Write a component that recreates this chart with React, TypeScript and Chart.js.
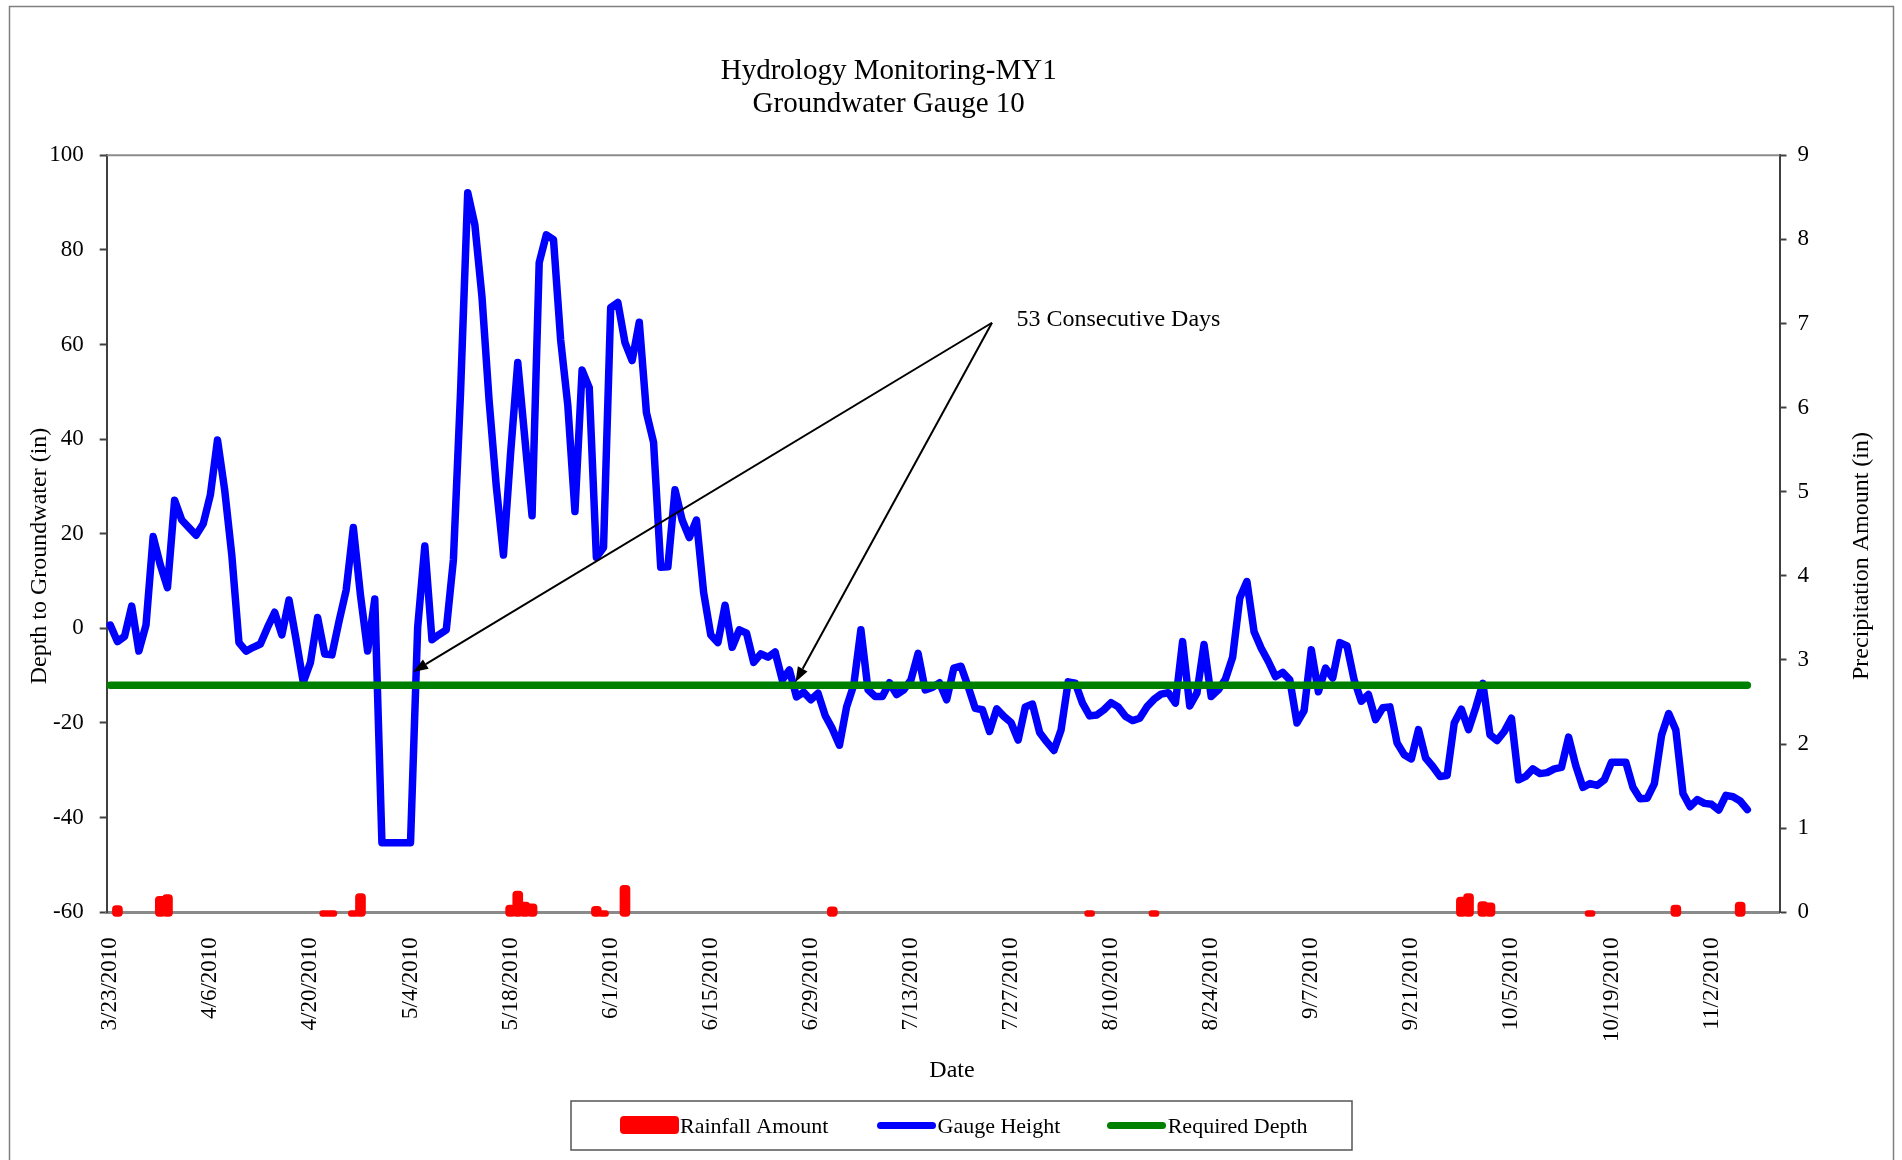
import React, { useEffect, useRef } from "react";
import { Chart, registerables } from "chart.js";

Chart.register(...registerables);

// ---------------- DATA ----------------
const TITLE_LINES = ["Hydrology Monitoring-MY1", "Groundwater Gauge 10"];
const START_YEAR = 2010;
const START_MONTH = 3; // March
const START_DAY = 23;
const DAY_COUNT = 234; // 3/23/2010 .. 11/11/2010

const TICK_LABELS = [
  "3/23/2010", "4/6/2010", "4/20/2010", "5/4/2010", "5/18/2010", "6/1/2010",
  "6/15/2010", "6/29/2010", "7/13/2010", "7/27/2010", "8/10/2010", "8/24/2010",
  "9/7/2010", "9/21/2010", "10/5/2010", "10/19/2010", "11/2/2010",
];

// Gauge height (in), one value per day starting 3/23/2010
const GAUGE_HEIGHT = [
  0.7, -2.8, -1.7, 4.7, -4.8, 0.7, 19.4, 13.4, 8.6, 27.1,
  22.9, 21.3, 19.7, 22.1, 28.2, 39.8, 29.3, 15.5, -3.0, -4.8,
  -4.0, -3.3, 0.2, 3.4, -1.4, 6.0, -2.4, -11.4, -7.2, 2.3,
  -5.4, -5.6, 1.5, 8.1, 21.3, 7.0, -4.8, 6.2, -45.3, -45.3,
  -45.3, -45.3, -45.3, 0.2, 17.4, -2.4, -1.3, -0.3, 14.5, 50,
  92.1, 85.3, 70, 48, 30, 15.5, 37, 56.2, 40, 23.8,
  77.3, 83.2, 82.2, 61, 47.2, 24.7, 54.6, 50.9, 15, 17.1,
  67.8, 68.9, 60.4, 56.6, 64.7, 45.6, 39.3, 12.9, 13, 29.3,
  22.9, 19.2, 22.9, 7.6, -1.4, -3, 4.9, -4, -0.3, -1,
  -7.2, -5.4, -6.1, -5, -10.9, -8.8, -14.5, -13.5, -15.1, -13.7,
  -18.4, -21.2, -24.7, -16.6, -12, -0.3, -13, -14.4, -14.4, -11.5,
  -14, -13, -10.9, -5.3, -13, -12.5, -11.5, -15.1, -8.4, -8,
  -12.3, -16.9, -17.2, -21.8, -17, -18.6, -19.9, -23.6, -16.6, -16,
  -22, -24, -25.8, -21.5, -11.3, -11.6, -15.8, -18.5, -18.3, -17.2,
  -15.7, -16.6, -18.6, -19.5, -19, -16.6, -15, -13.9, -13.6, -15.8,
  -2.8, -16.4, -13.7, -3.4, -14.4, -13, -10.7, -6.1, 6.4, 9.9,
  -0.7, -4.2, -7, -10.2, -9.3, -10.9, -20, -17.4, -4.5, -13.4,
  -8.4, -10.5, -3, -3.7, -10.9, -15.4, -14, -19.3, -16.8, -16.6,
  -24.2, -26.7, -27.6, -21.4, -27.4, -29.2, -31.3, -31.1, -20, -17.1,
  -21.4, -16.8, -11.6, -22.5, -23.7, -21.8, -19, -32, -31.3, -29.7,
  -30.7, -30.5, -29.7, -29.4, -23, -29, -33.6, -32.8, -33.2, -32,
  -28.3, -28.3, -28.3, -33.6, -36, -35.9, -32.8, -22.6, -18, -21.5,
  -34.9, -37.7, -36.2, -37, -37.2, -38.4, -35.3, -35.6, -36.5, -38.3,
];

const REQUIRED_DEPTH = -12;

const RAIN_DATES = [
  "3/24/2010", "3/30/2010", "3/31/2010", "4/22/2010", "4/23/2010", "4/26/2010",
  "4/27/2010", "5/18/2010", "5/19/2010", "5/20/2010", "5/21/2010", "5/30/2010",
  "5/31/2010", "6/3/2010", "7/2/2010", "8/7/2010", "8/16/2010", "9/28/2010",
  "9/29/2010", "10/1/2010", "10/2/2010", "10/16/2010", "10/28/2010", "11/6/2010",
];
const RAIN_AMOUNTS = [
  0.08, 0.19, 0.21, 0.02, 0.02, 0.02,
  0.22, 0.085, 0.25, 0.12, 0.1, 0.07,
  0.02, 0.32, 0.065, 0.02, 0.02, 0.18,
  0.22, 0.125, 0.11, 0.02, 0.085, 0.12,
];

const SERIES_LABELS = ["Rainfall Amount", "Gauge Height", "Required Depth"];
const AXIS_TITLES = { x: "Date", y: "Depth to Groundwater (in)", y1: "Precipitation Amount (in)" };
const ANNOTATION_TEXT = "53 Consecutive Days";

// ---------------- BUILD ----------------
const CATEGORIES: string[] = [];
for (let i = 0; i < DAY_COUNT; i++) {
  const d = new Date(START_YEAR, START_MONTH - 1, START_DAY + i);
  CATEGORIES.push(`${d.getMonth() + 1}/${d.getDate()}/${d.getFullYear()}`);
}
const gaugeData = CATEGORIES.map((_, i) => (i < GAUGE_HEIGHT.length ? GAUGE_HEIGHT[i] : null));
const requiredData = CATEGORIES.map((_, i) => (i < GAUGE_HEIGHT.length ? REQUIRED_DEPTH : null));
const rainData = CATEGORIES.map((c) => {
  const k = RAIN_DATES.indexOf(c);
  return k >= 0 ? [-0.05, RAIN_AMOUNTS[k]] : null;
});

const FONT = '"Liberation Serif", "Times New Roman", serif';
const COLORS = { rain: "#FF0000", gauge: "#0000FF", req: "#008000" };

const CHART_LEFT = 106.7;
const CHART_RIGHT = 1779.5;
const CHART_TOP = 155.3;
const CHART_BOTTOM = 912.2;
const W = 1902;
const H = 1160;

function drawArrow(ctx: CanvasRenderingContext2D, x1: number, y1: number, x2: number, y2: number) {
  const ang = Math.atan2(y2 - y1, x2 - x1);
  const len = 15;
  const hw = 5.5;
  const bx = x2 - len * Math.cos(ang);
  const by = y2 - len * Math.sin(ang);
  ctx.beginPath();
  ctx.moveTo(x1, y1);
  ctx.lineTo(bx, by);
  ctx.stroke();
  ctx.beginPath();
  ctx.moveTo(x2, y2);
  ctx.lineTo(bx + hw * Math.sin(ang), by - hw * Math.cos(ang));
  ctx.lineTo(bx - hw * Math.sin(ang), by + hw * Math.cos(ang));
  ctx.closePath();
  ctx.fill();
}

const decorPlugin = {
  id: "decor",
  afterDraw(chart: any) {
    const { ctx, chartArea: ca, scales } = chart;
    ctx.save();
    // outer chart border
    ctx.strokeStyle = "#7f7f7f";
    ctx.lineWidth = 1.5;
    ctx.strokeRect(9.5, 6.5, 1884, 1200);
    // plot area top border
    ctx.strokeStyle = "#8c8c8c";
    ctx.lineWidth = 2;
    ctx.beginPath();
    ctx.moveTo(ca.left, ca.top);
    ctx.lineTo(ca.right, ca.top);
    ctx.stroke();

    // title
    ctx.fillStyle = "#000";
    ctx.textAlign = "center";
    ctx.textBaseline = "middle";
    ctx.font = `29px ${FONT}`;
    ctx.fillText(TITLE_LINES[0], 888.7, 71.7);
    ctx.fillText(TITLE_LINES[1], 888.7, 104);

    // axis titles
    ctx.font = `24px ${FONT}`;
    ctx.fillText(AXIS_TITLES.x, 952, 1071);
    ctx.save();
    ctx.translate(40, 556);
    ctx.rotate(-Math.PI / 2);
    ctx.fillText(AXIS_TITLES.y, 0, 0);
    ctx.restore();
    ctx.save();
    ctx.translate(1862, 556);
    ctx.rotate(-Math.PI / 2);
    ctx.fillText(AXIS_TITLES.y1, 0, 0);
    ctx.restore();

    // annotation
    const xs = scales.x;
    const ys = scales.y;
    const sx = xs.getPixelForValue(123.34);
    const sy = ys.getPixelForValue(64.6);
    ctx.textAlign = "left";
    ctx.font = `24px ${FONT}`;
    ctx.fillText(ANNOTATION_TEXT, xs.getPixelForValue(126.76), ys.getPixelForValue(65.3));
    ctx.strokeStyle = "#000";
    ctx.fillStyle = "#000";
    ctx.lineWidth = 2;
    drawArrow(ctx, sx, sy, xs.getPixelForValue(42.34), ys.getPixelForValue(-9.2));
    drawArrow(ctx, sx, sy, xs.getPixelForValue(95.85), ys.getPixelForValue(-11.33));

    // legend
    ctx.strokeStyle = "#555";
    ctx.lineWidth = 1.5;
    ctx.strokeRect(571, 1101, 781, 49);
    const ly = 1125.5;
    ctx.fillStyle = COLORS.rain;
    ctx.beginPath();
    (ctx as any).roundRect(620, 1116, 59, 18, 4);
    ctx.fill();
    ctx.lineCap = "round";
    ctx.lineWidth = 7;
    ctx.strokeStyle = COLORS.gauge;
    ctx.beginPath();
    ctx.moveTo(880.5, ly);
    ctx.lineTo(932.5, ly);
    ctx.stroke();
    ctx.strokeStyle = COLORS.req;
    ctx.beginPath();
    ctx.moveTo(1110.5, ly);
    ctx.lineTo(1162.5, ly);
    ctx.stroke();
    ctx.fillStyle = "#000";
    ctx.font = `22px ${FONT}`;
    ctx.textAlign = "left";
    ctx.fillText(SERIES_LABELS[0], 680, 1127);
    ctx.fillText(SERIES_LABELS[1], 937.5, 1127);
    ctx.fillText(SERIES_LABELS[2], 1167.7, 1127);
    ctx.restore();
  },
};

export default function App() {
  const ref = useRef<HTMLCanvasElement | null>(null);
  useEffect(() => {
    if (!ref.current) return;
    const chart = new Chart(ref.current, {
      type: "bar",
      data: {
        labels: CATEGORIES,
        datasets: [
          {
            type: "line",
            label: SERIES_LABELS[2],
            data: requiredData,
            yAxisID: "y",
            borderColor: COLORS.req,
            backgroundColor: COLORS.req,
            borderWidth: 7.5,
            pointRadius: 0,
            borderCapStyle: "round",
            borderJoinStyle: "round",
            order: 0,
          } as any,
          {
            type: "line",
            label: SERIES_LABELS[1],
            data: gaugeData,
            yAxisID: "y",
            borderColor: COLORS.gauge,
            backgroundColor: COLORS.gauge,
            borderWidth: 7.5,
            pointRadius: 0,
            tension: 0,
            borderCapStyle: "round",
            borderJoinStyle: "round",
            order: 1,
          } as any,
          {
            type: "bar",
            label: SERIES_LABELS[0],
            data: rainData as any,
            yAxisID: "y1",
            backgroundColor: COLORS.rain,
            borderWidth: 0,
            barThickness: 10,
            borderRadius: 4,
            borderSkipped: false,
            clip: 10,
            order: 2,
          } as any,
        ],
      },
      options: {
        responsive: false,
        animation: false,
        events: [],
        layout: { padding: { top: CHART_TOP, left: 0, right: 0, bottom: 0 } },
        plugins: { legend: { display: false }, tooltip: { enabled: false }, title: { display: false } },
        scales: {
          x: {
            type: "category",
            offset: true,
            grid: { display: false, drawTicks: false },
            border: { display: true, color: "#8a8a8a", width: 3 },
            ticks: {
              autoSkip: false,
              maxRotation: 90,
              minRotation: 90,
              padding: 25,
              color: "#000",
              font: { family: FONT, size: 23 },
              callback: (_v: any, idx: number) => {
                const lab = CATEGORIES[idx];
                return TICK_LABELS.includes(lab) ? lab : null;
              },
            },
            afterFit: (s: any) => {
              s.height = H - CHART_BOTTOM;
            },
          },
          y: {
            position: "left",
            min: -60,
            max: 100,
            grid: { drawOnChartArea: false, drawTicks: true, tickLength: 7, tickColor: "#404040", tickWidth: 2 },
            border: { display: true, color: "#404040", width: 2 },
            ticks: { stepSize: 20, padding: 16, color: "#000", font: { family: FONT, size: 23 } },
            afterFit: (s: any) => {
              s.width = CHART_LEFT;
            },
          },
          y1: {
            position: "right",
            min: 0,
            max: 9,
            grid: { drawOnChartArea: false, drawTicks: true, tickLength: 7, tickColor: "#404040", tickWidth: 2 },
            border: { display: true, color: "#404040", width: 2 },
            ticks: { stepSize: 1, padding: 11, color: "#000", font: { family: FONT, size: 23 } },
            afterFit: (s: any) => {
              s.width = W - CHART_RIGHT;
            },
          },
        },
      } as any,
      plugins: [decorPlugin],
    });
    return () => chart.destroy();
  }, []);

  return (
    <div style={{ position: "absolute", left: 0, top: 0, width: W, height: H, background: "#fff" }}>
      <canvas ref={ref} width={W} height={H} style={{ width: W, height: H, display: "block" }} />
    </div>
  );
}
